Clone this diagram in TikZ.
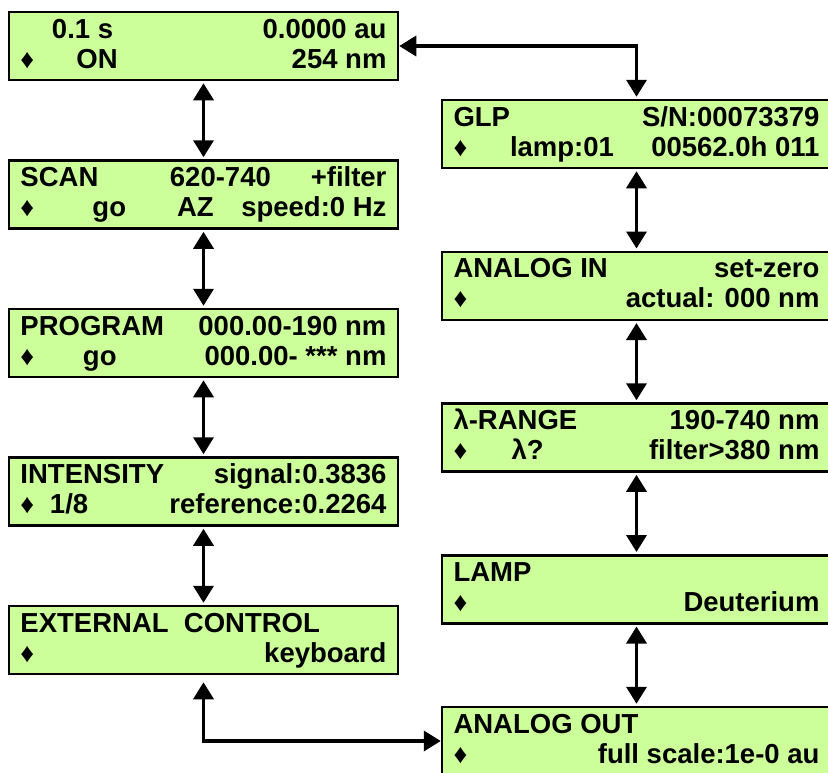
\documentclass[tikz,border=0pt]{standalone}
\usepackage{fontspec}
\newfontfamily\lcdfont{Liberation Sans}
\usetikzlibrary{
    arrows.meta,
    positioning
}
\definecolor{lcdgreen}{HTML}{CCFF99}
\tikzset{
    every picture/.style = {
        > = {Triangle[width = 20pt, length = 17pt]}
    },
    lcd/.style = {
        draw,
        line width = 2.5pt,
        fill = lcdgreen,
        inner sep = 0pt,
        minimum width = 389pt,
        minimum height = 68pt,
        font = \lcdfont\bfseries
    },
    link/.style = {
        <->,
        line width = 3.5pt,
        shorten < = 2pt,
        shorten > = 2pt
    }
}
\newcommand{\dm}{{\fontsize{27pt}{27pt}\selectfont ♦}}
\newcommand{\lcdtext}[2]{\parbox[c][68pt][t]{366pt}{\fontsize{27.5pt}{30pt}\selectfont\rule{0pt}{26pt}#1\\#2}}

\begin{document}
\begin{tikzpicture}[
                        node distance = 78pt
                    ]
                        \useasboundingbox (-203.5pt, 46pt) rectangle (624.5pt, -726pt);
                        \clip (-203.5pt, 46pt) rectangle (624.5pt, -726pt);

                        % left column
                        \node[lcd] (main) {\lcdtext{\hspace*{31.5pt}0.1 s\hfill 0.0000 au}{\makebox[56pt][l]{\dm}ON\hfill 254 nm}};
                        \node[lcd, below = of main] (scan) {\lcdtext{\makebox[149.5pt][l]{SCAN}620-740\hfill +filter}{\makebox[72pt][l]{\dm}\makebox[84.5pt][l]{go}AZ\hfill speed:0 Hz}};
                        \node[lcd, below = of scan] (prog) {\lcdtext{PROGRAM\hfill 000.00-190 nm}{\makebox[62.5pt][l]{\dm}go\hfill 000.00- *** nm}};
                        \node[lcd, below = of prog] (inten) {\lcdtext{INTENSITY\hfill signal:0.3836}{\makebox[29.5pt][l]{\dm}1/8\hfill reference:0.2264}};
                        \node[lcd, below = of inten] (ext) {\lcdtext{EXTERNAL\ \ CONTROL}{\dm\hfill keyboard}};

                        % right column
                        \node[lcd, below right = 17.5pt and 41.5pt of main] (glp) {\lcdtext{GLP\hfill S/N:00073379}{\makebox[56.5pt][l]{\dm}lamp:01\hfill 00562.0h 011}};
                        \node[lcd, below = 81.25pt of glp] (ain) {\lcdtext{ANALOG IN\hfill set-zero}{\dm\hfill actual: 000 nm}};
                        \node[lcd, below = 81.25pt of ain] (range) {\lcdtext{λ-RANGE\hfill 190-740 nm}{\makebox[58pt][l]{\dm}λ?\hfill filter>380 nm}};
                        \node[lcd, below = 81.25pt of range] (lamp) {\lcdtext{LAMP}{\dm\hfill Deuterium}};
                        \node[lcd, below = 81.25pt of lamp] (aout) {\lcdtext{ANALOG OUT}{\dm\hfill full scale:1e-0 au}};

                        \path[link] (main) edge (scan);
                        \path[link] (scan) edge (prog);
                        \path[link] (prog) edge (inten);
                        \path[link] (inten) edge (ext);
                        \path[link] (glp) edge (ain);
                        \path[link] (ain) edge (range);
                        \path[link] (range) edge (lamp);
                        \path[link] (lamp) edge (aout);

                        \draw[link, shorten < = 0pt] (main.east) -| (glp.north);
                        \draw[link, shorten < = 7pt, shorten > = 0pt] (ext.south) |- (aout.west);
                    \end{tikzpicture}
\end{document}
